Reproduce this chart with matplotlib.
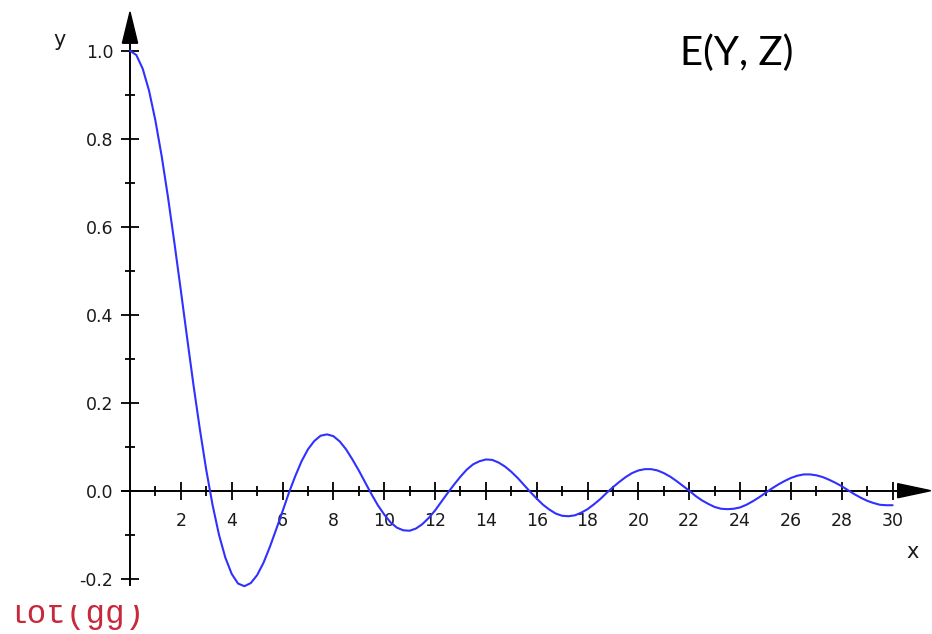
import matplotlib
import matplotlib.pyplot as plt
from matplotlib.patches import Polygon

matplotlib.use('Agg')

# curve (x step 0.25)
x_vals = [i * 0.25 for i in range(121)]
y_vals = [
    1.000, 0.990, 0.959, 0.909, 0.841, 0.759, 0.665, 0.562, 0.455, 0.346,
    0.239, 0.139, 0.047, -0.033, -0.100, -0.152, -0.189, -0.211, -0.217, -0.210,
    -0.192, -0.164, -0.128, -0.088, -0.047, -0.005, 0.033, 0.067, 0.094, 0.113,
    0.125, 0.128, 0.124, 0.112, 0.094, 0.071, 0.046, 0.019, -0.008, -0.033,
    -0.054, -0.072, -0.084, -0.090, -0.091, -0.086, -0.076, -0.062, -0.045, -0.025,
    -0.005, 0.014, 0.032, 0.048, 0.060, 0.067, 0.071, 0.070, 0.064, 0.055,
    0.043, 0.029, 0.013, -0.003, -0.018, -0.032, -0.043, -0.052, -0.057, -0.058,
    -0.056, -0.050, -0.042, -0.031, -0.019, -0.005, 0.008, 0.020, 0.031, 0.040,
    0.046, 0.049, 0.049, 0.046, 0.040, 0.032, 0.022, 0.011, -0.000, -0.012,
    -0.022, -0.030, -0.037, -0.041, -0.042, -0.041, -0.038, -0.032, -0.024, -0.015,
    -0.005, 0.005, 0.014, 0.022, 0.029, 0.034, 0.037, 0.037, 0.035, 0.031,
    0.025, 0.018, 0.010, 0.001, -0.008, -0.016, -0.023, -0.028, -0.032, -0.033,
    -0.033,
]

x_major = list(range(2, 31, 2))
x_minor = list(range(1, 30, 2))
y_major = [-0.2, 0.0, 0.2, 0.4, 0.6, 0.8, 1.0]
y_minor = [-0.1, 0.1, 0.3, 0.5, 0.7, 0.9]
y_labels = ['-0.2', '0.0', '0.2', '0.4', '0.6', '0.8', '1.0']

ink = '#1a1a1a'

fig = plt.figure(figsize=(9.32, 6.34), dpi=100)
ax = fig.add_axes([0, 0, 1, 1])

# pixel layout: x=0 at 130px, 25.42 px per unit; y=0 at 490.7px, 440 px per unit
ax.set_xlim(-130 / 25.42, (932 - 130) / 25.42)
ax.set_ylim(-(634 - 490.7) / 440, 490.7 / 440)

ax.plot(x_vals, y_vals, color='#3030ff', lw=1.5, zorder=3,
        solid_joinstyle='round', solid_capstyle='round')

for side in ['top', 'right']:
    ax.spines[side].set_visible(False)
ax.spines['left'].set_position(('data', 0))
ax.spines['bottom'].set_position(('data', 0))
ax.spines['left'].set_bounds(-0.215, 1.03)
ax.spines['bottom'].set_bounds(-0.32, 30.4)
for side in ['left', 'bottom']:
    ax.spines[side].set_linewidth(1.4)
    ax.spines[side].set_color('black')

# arrow heads
ax.add_patch(Polygon([[30.2, -0.016], [31.5, 0.0], [30.2, 0.016]],
                     closed=True, color='black', clip_on=False))
ax.add_patch(Polygon([[-0.3, 1.017], [0.0, 1.088], [0.3, 1.017]],
                     closed=True, color='black', clip_on=False))

ax.set_xticks(x_major)
ax.set_xticks(x_minor, minor=True)
ax.set_yticks(y_major)
ax.set_yticks(y_minor, minor=True)
ax.set_yticklabels(y_labels)
ax.tick_params(which='major', direction='inout', length=13, width=1.3,
               labelsize=12.5, labelcolor=ink, color='black')
ax.tick_params(which='minor', direction='inout', length=7, width=1.3, color='black')
ax.tick_params(axis='x', which='major', pad=8.5)
ax.tick_params(axis='y', which='major', pad=5.5)

fig.text(60 / 932, 1 - 40 / 634, 'y', fontsize=15, color=ink, ha='center', va='center')
fig.text(913 / 932, 1 - 552 / 634, 'x', fontsize=15, color=ink, ha='center', va='center')

fig.text(680 / 932, 1 - 65 / 634, 'E(Y, Z)', fontsize=29, family='Lato',
         color='black', ha='left', va='baseline')

# clipped code line at the bottom (top of the glyphs cut off at ~605px)
ax_code = fig.add_axes([0, 0, 200 / 932, 29 / 634])
ax_code.axis('off')
code = ax_code.text(8 / 200, 11 / 29, 'lot(gg)', fontsize=23.5, family='Liberation Mono',
                    color='#c8283c', ha='left', va='baseline')
code.set_clip_box(ax_code.bbox)
code.set_clip_on(True)

plt.savefig('out.png', dpi=100)
